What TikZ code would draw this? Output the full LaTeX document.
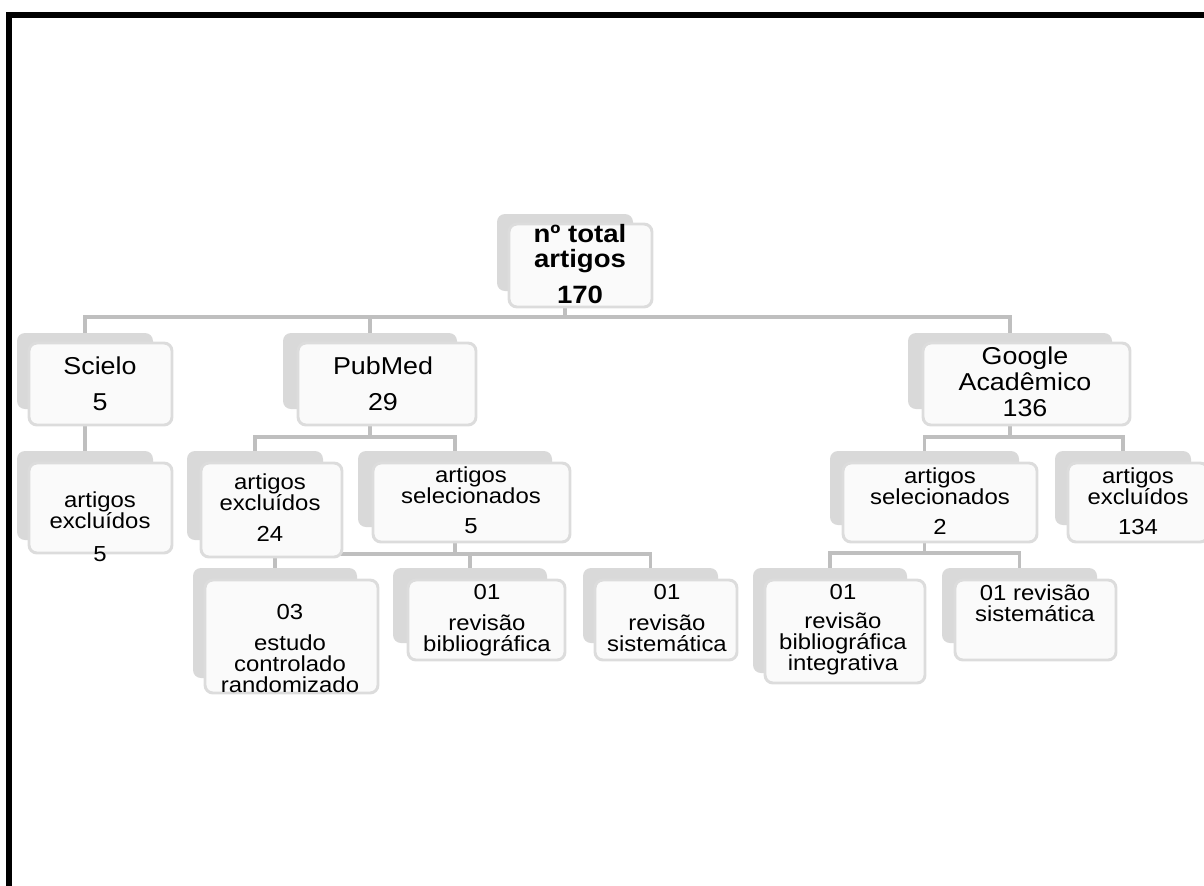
\documentclass[tikz,border=0pt]{standalone}
\usepackage{fontspec}
\setmainfont{Liberation Sans}[FakeStretch=1.1]
\usetikzlibrary{fit,backgrounds}
\definecolor{backgrey}{HTML}{D9D9D9}
\definecolor{edgegrey}{HTML}{DCDCDC}
\definecolor{frontfill}{HTML}{FAFAFA}
\definecolor{linegrey}{HTML}{BFBFBF}
\tikzset{
 backbox/.style={fill=backgrey, draw=none, rounded corners=6pt, inner sep=0pt},
 frontbox/.style={fill=frontfill, draw=edgegrey, line width=2.2pt, rounded corners=6pt, inner sep=0pt},
 conn/.style={draw=linegrey, line width=2.4pt, line join=miter},
 lbl/.style={anchor=north, align=center, inner sep=0pt, font=\fontsize{16.3}{15.75}\selectfont},
 lblbig/.style={lbl, font=\fontsize{18.3}{19.5}\selectfont},
 lblroot/.style={lbl, font=\bfseries\fontsize{18.8}{18.75}\selectfont},
 frameline/.style={line width=4.5pt, black, line join=miter},
}
\newcommand\card[9]{%
 \node[backbox, fit={(#2,#3) (#4,#5)}] (#1b) {};
 \node[frontbox, fit={(#6,#7) (#8,#9)}] (#1) {};
}
\begin{document}
\begin{tikzpicture}[x=0.75pt,y=-0.75pt]
\useasboundingbox (0,0) rectangle (1204,886);
\draw[frameline] (9,892) -- (9,14.5) -- (1210,14.5);

\card{root}{497}{214}{633}{291}{509}{224}{652}{307}
\card{sci}{17}{333}{153}{409}{29}{343}{172}{425}
\card{pub}{283}{333}{457}{409}{298}{343}{476}{425}
\card{goog}{908}{333}{1112}{409}{923}{343}{1130}{425}
\card{sciex}{17}{451}{153}{540}{29}{463}{172}{553}
\card{pex}{187}{451}{323}{540}{201}{463}{342}{557}
\card{psel}{358}{451}{552}{527}{373}{463}{570}{542}
\card{gsel}{830}{451}{1019}{525}{843}{463}{1037}{542}
\card{gex}{1055}{451}{1191}{525}{1068}{463}{1208}{542}
\card{est}{193}{568}{357}{678}{205}{580}{378}{693}
\card{pbib}{393}{568}{547}{643}{408}{580}{565}{660}
\card{psis}{583}{568}{718}{643}{595}{580}{737}{660}
\card{gint}{753}{568}{907}{673}{765}{580}{925}{683}
\card{gsis}{942}{568}{1097}{643}{955}{580}{1116}{660}

\node[lblroot] (roott) at (580,224) {nº total\\artigos\\[8pt]170};
\node[lblbig] (scit) at (100,357) {Scielo\\[7.5pt]5};
\node[lblbig] (pubt) at (383,357) {PubMed\\[7.5pt]29};
\node[lblbig] (googt) at (1025,347) {Google\\Acadêmico\\136};
\node[lbl] (sciext) at (100,491) {artigos\\excluídos\\[9pt]5};
\node[lbl] (pext) at (270,473) {artigos\\excluídos\\[8pt]24};
\node[lbl] (pselt) at (471,466) {artigos\\selecionados\\[7pt]5};
\node[lbl] (gselt) at (940,467) {artigos\\selecionados\\[7pt]2};
\node[lbl] (gext) at (1138,467) {artigos\\excluídos\\[7pt]134};
\node[lbl] (estt) at (290,604) {03\\[7.5pt]estudo\\controlado\\randomizado};
\node[lbl] (pbibt) at (487,584) {01\\[7.5pt]revisão\\bibliográfica};
\node[lbl] (psist) at (667,584) {01\\[7.5pt]revisão\\sistemática};
\node[lbl] (gintt) at (843,584) {01\\[6pt]revisão\\bibliográfica\\integrativa};
\node[lbl] (gsist) at (1035,584) {01 revisão\\sistemática};

\coordinate (bus0) at (0,317);
\coordinate (bus1) at (0,437);
\coordinate (bus2) at (0,554);
\coordinate (bus3) at (0,553);

\begin{pgfonlayer}{background}
\draw[conn] (rootb.center |- root.south) -- (rootb.center |- bus0);
\draw[conn] (scib.north) -- (scib.center |- bus0) -- (googb.center |- bus0) -- (googb.north);
\draw[conn] (pubb.north) -- (pubb.center |- bus0);
\draw[conn] (scib.center |- sci.south) -- (sciexb.north);
\draw[conn] (pubb.center |- pub.south) -- (pubb.center |- bus1);
\draw[conn] (pexb.north) -- (pexb.center |- bus1) -- (pselb.center |- bus1) -- (pselb.north);
\draw[conn] (pselb.center |- psel.south) -- (pselb.center |- bus2);
\draw[conn] (estb.north) -- (estb.center |- bus2) -- (psisb.center |- bus2) -- (psisb.north);
\draw[conn] (pbibb.north) -- (pbibb.center |- bus2);
\draw[conn] (googb.center |- goog.south) -- (googb.center |- bus1);
\draw[conn] (gselb.north) -- (gselb.center |- bus1) -- (gexb.center |- bus1) -- (gexb.north);
\draw[conn] (gselb.center |- gsel.south) -- (gselb.center |- bus3);
\draw[conn] (gintb.north) -- (gintb.center |- bus3) -- (gsisb.center |- bus3) -- (gsisb.north);
\end{pgfonlayer}
\end{tikzpicture}
\end{document}
